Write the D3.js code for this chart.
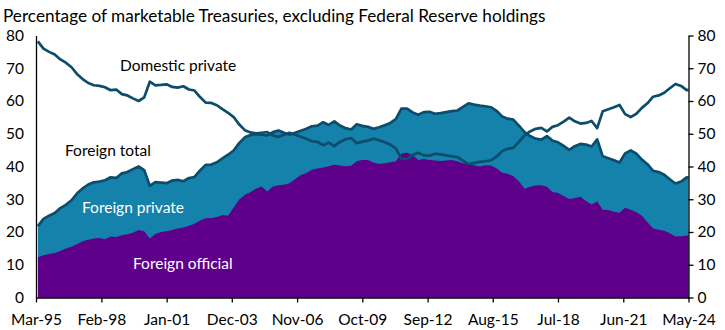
<html>
<script src="https://d3js.org/d3.v7.min.js"></script>
<style>
  body { margin: 0; background: #fff; }
  text { font-family: Lato, "Open Sans", sans-serif; }
</style>
<body onload="init()">
<svg width="725" height="330"></svg>
<script>
// quarterly readings, Mar-95 .. Mar-24, plus the May-24 observation
var foreignTotal = [
  21.8, 24.0, 25.0, 25.8, 27.3, 28.3, 29.7, 31.8, 33.3, 34.5,
  35.2, 35.4, 35.8, 36.7, 36.5, 37.9, 38.3, 39.2, 40.0, 38.9,
  34.1, 35.2, 35.1, 34.9, 35.7, 35.9, 35.5, 36.5, 36.8, 38.8,
  40.5, 40.6, 41.3, 42.5, 43.6, 44.9, 47.2, 48.9, 49.6, 49.9,
  49.7, 49.5, 50.5, 51.0, 50.3, 49.7, 50.3, 50.9, 51.5, 52.3,
  52.5, 53.5, 52.7, 53.8, 52.5, 51.7, 51.3, 52.9, 52.4, 52.1,
  51.5, 52.0, 52.6, 53.3, 54.5, 57.7, 57.7, 56.5, 55.8, 56.6,
  56.7, 56.1, 56.3, 56.6, 56.9, 57.1, 58.2, 59.3, 58.9, 58.6,
  58.4, 58.1, 57.0, 55.3, 54.6, 54.3, 52.5, 50.5, 49.3, 48.5,
  48.2, 49.3, 47.9, 47.4, 46.3, 45.1, 46.2, 46.9, 46.7, 46.1,
  48.3, 43.1, 42.5, 41.9, 41.2, 44.0, 44.9, 43.9, 42.1, 40.7,
  38.7, 38.3, 37.5, 36.1, 34.8, 35.4, 36.7, 36.6
];
var foreignOfficial = [
  12.3, 12.9, 13.3, 13.6, 14.2, 15.0, 15.5, 16.3, 17.2, 17.6,
  18.0, 18.2, 17.8, 18.6, 18.5, 19.0, 19.3, 19.8, 20.6, 20.2,
  18.0, 19.4, 20.0, 20.2, 20.6, 21.1, 21.4, 21.9, 22.5, 23.5,
  24.2, 24.3, 24.6, 25.2, 25.0, 27.5, 29.9, 31.4, 32.1, 33.3,
  33.9, 32.4, 33.9, 34.3, 34.4, 34.9, 36.2, 37.4, 38.0, 39.0,
  39.4, 39.7, 40.1, 40.5, 40.3, 40.1, 40.2, 41.6, 42.0, 42.0,
  41.2, 40.8, 41.0, 41.3, 41.6, 44.0, 44.2, 43.5, 42.0, 42.3,
  42.0, 41.8, 41.7, 41.8, 42.0, 41.6, 41.0, 40.9, 40.4, 40.0,
  40.4, 40.3, 39.5, 38.1, 37.8, 37.0, 35.5, 33.2, 33.8, 34.2,
  34.3, 33.8, 32.2, 31.9, 31.0, 30.1, 30.4, 30.8, 29.5, 28.4,
  29.3, 26.8, 26.7, 26.2, 25.9, 27.4, 26.8, 26.0, 25.0, 23.0,
  21.1, 20.7, 20.4, 19.6, 18.6, 18.7, 18.9, 18.8
];
var domesticPrivate = [
  78.2, 76.0, 75.0, 74.2, 72.7, 71.7, 70.3, 68.2, 66.7, 65.5,
  64.8, 64.6, 64.2, 63.3, 63.5, 62.1, 61.7, 60.8, 60.0, 61.1,
  65.9, 64.8, 64.9, 65.1, 64.3, 64.1, 64.5, 63.5, 63.2, 61.2,
  59.5, 59.4, 58.7, 57.5, 56.4, 55.1, 52.8, 51.1, 50.4, 50.1,
  50.3, 50.5, 49.5, 49.0, 49.7, 50.3, 49.7, 49.1, 48.5, 47.7,
  47.5, 46.5, 47.3, 46.2, 47.5, 48.3, 48.7, 47.1, 47.6, 47.9,
  48.5, 48.0, 47.4, 46.7, 45.5, 42.3, 42.3, 43.5, 44.2, 43.4,
  43.3, 43.9, 43.7, 43.4, 43.1, 42.9, 41.8, 40.7, 41.1, 41.4,
  41.6, 41.9, 43.0, 44.7, 45.4, 45.7, 47.5, 49.5, 50.7, 51.5,
  51.8, 50.7, 52.1, 52.6, 53.7, 54.9, 53.8, 53.1, 53.3, 53.9,
  51.7, 56.9, 57.5, 58.1, 58.8, 56.0, 55.1, 56.1, 57.9, 59.3,
  61.3, 61.7, 62.5, 63.9, 65.2, 64.6, 63.3, 63.4
];
var tickLabels = ["Mar-95", "Feb-98", "Jan-01", "Dec-03", "Nov-06", "Oct-09",
                  "Sep-12", "Aug-15", "Jul-18", "Jun-21", "May-24"];
var yTicks = [0, 10, 20, 30, 40, 50, 60, 70, 80];

function init() {
  var parse = d3.timeParse("%b-%y");
  var start = parse("Mar-95"), end = parse("May-24");
  var dates = d3.timeMonth.every(3).range(start, end).concat([end]);

  var x = d3.scaleTime().domain([start, end]).range([36, 688.5]);
  var y = d3.scaleLinear().domain([0, 80]).range([297.5, 35.5]);

  var rows = dates.map(function(d, i) {
    return {date: d, total: foreignTotal[i], official: foreignOfficial[i], domestic: domesticPrivate[i]};
  });

  var svg = d3.select("svg");

  svg.append("text").attr("x", 3).attr("y", 22)
    .style("font-size", "17.2px").attr("fill", "#000")
    .text("Percentage of marketable Treasuries, excluding Federal Reserve holdings");

  var area = function(key) {
    return d3.area().x(function(d) { return x(d.date); })
      .y0(y(0)).y1(function(d) { return y(d[key]); });
  };
  var line = function(key) {
    return d3.line().x(function(d) { return x(d.date); })
      .y(function(d) { return y(d[key]); });
  };

  svg.append("path").datum(rows).attr("d", area("total")).attr("fill", "#1582ab");
  svg.append("path").datum(rows).attr("d", area("official")).attr("fill", "#5e0089");
  svg.append("path").datum(rows).attr("d", line("total"))
    .attr("fill", "none").attr("stroke", "#0c4d6c").attr("stroke-width", 2.7).attr("stroke-linejoin", "round");
  svg.append("path").datum(rows).attr("d", line("domestic"))
    .attr("fill", "none").attr("stroke", "#0c4d6c").attr("stroke-width", 2.7).attr("stroke-linejoin", "round");

  // axes
  var left = svg.append("g").attr("transform", "translate(36,0)")
    .call(d3.axisLeft(y).tickValues(yTicks).tickSize(0).tickPadding(12));
  var right = svg.append("g").attr("transform", "translate(688.5,0)")
    .call(d3.axisRight(y).tickValues(yTicks).tickSizeOuter(0).tickSizeInner(5).tickPadding(4));
  var bottom = svg.append("g").attr("transform", "translate(0,297.5)")
    .call(d3.axisBottom(x).tickValues(tickLabels.map(parse)).tickFormat(d3.timeFormat("%b-%y"))
      .tickSizeOuter(0).tickSizeInner(5).tickPadding(11));

  [left, right, bottom].forEach(function(g) {
    g.select(".domain").attr("stroke", "#000").attr("stroke-width", 1.3);
    g.selectAll(".tick line").attr("stroke", "#000").attr("stroke-width", 1.3);
    g.selectAll("text").style("font-family", "Lato, sans-serif").style("font-size", "15.5px").attr("fill", "#000");
  });

  var labels = [
    {t: "Domestic private", x: 120, y: 71, c: "#000"},
    {t: "Foreign total", x: 65, y: 156, c: "#000"},
    {t: "Foreign private", x: 82, y: 213, c: "#fff"},
    {t: "Foreign official", x: 133, y: 269, c: "#fff"}
  ];
  svg.selectAll(".lbl").data(labels).enter().append("text").attr("class", "lbl")
    .attr("x", function(d) { return d.x; }).attr("y", function(d) { return d.y; })
    .attr("fill", function(d) { return d.c; }).style("font-size", "15.5px")
    .text(function(d) { return d.t; });
}
</script>
</body>
</html>
